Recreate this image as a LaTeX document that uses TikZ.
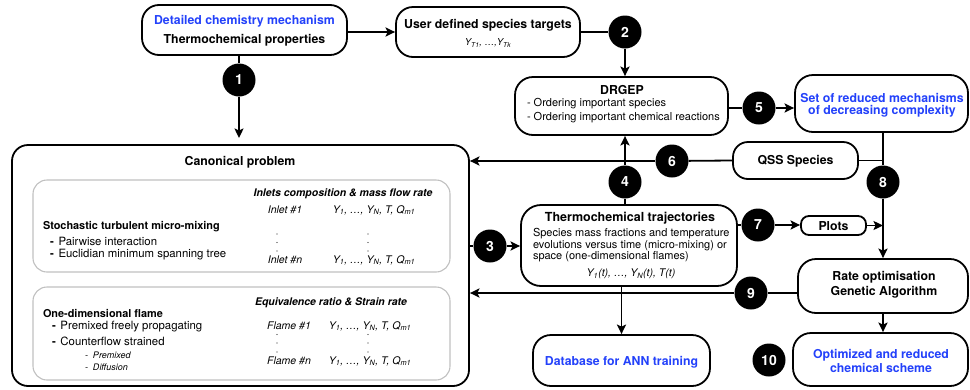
\documentclass[tikz,border=0pt]{standalone}
\usepackage{fontspec}
\setmainfont{TeX Gyre Heros}
\usetikzlibrary{arrows.meta}
\definecolor{myblue}{RGB}{35,65,250}
\definecolor{gline}{RGB}{192,192,192}
\newcommand\dashb{\makebox[8.5pt][l]{\bfseries -}}
\newcommand\Yform{Y\textsubscript{1}, …, Y\textsubscript{N}, T, Q\textsubscript{m1}}
\begin{document}
\begin{tikzpicture}[x=1pt,y=-1pt,
  box/.style={draw, line width=1.8pt, rounded corners=17pt, inner sep=0pt},
  gbox/.style={draw=gline, line width=1.1pt, rounded corners=14pt, inner sep=0pt},
  circ/.style={circle, fill=black, minimum size=33pt, inner sep=0pt, text=white, font=\fontsize{14}{14}\selectfont\bfseries},
  ln/.style={line width=1.8pt},
  arr/.style={line width=1.8pt, -{Stealth[length=9.5pt,width=9pt,inset=2pt]}},
  txt/.style={inner sep=0pt, outer sep=0pt},
  hb/.style={txt, font=\fontsize{12.3}{14}\selectfont\bfseries},
  hbb/.style={hb, text=myblue},
  hs/.style={txt, anchor=west, font=\fontsize{10.9}{12}\selectfont\bfseries},
  hbi/.style={txt, font=\fontsize{10.5}{12}\selectfont\bfseries\itshape},
  rg/.style={txt, anchor=west, font=\fontsize{11}{13}\selectfont},
  li/.style={txt, anchor=west, font=\fontsize{11.4}{13}\selectfont},
  it/.style={txt, font=\fontsize{10.5}{12}\selectfont\itshape},
  sm/.style={txt, anchor=west, font=\fontsize{9}{10}\selectfont\itshape},
  dotc/.style={circle, fill=black!85, inner sep=0pt, minimum size=1.3pt}
]
\useasboundingbox (0,0) rectangle (970,389);

% boxes
\node[box, minimum width=205pt, minimum height=50pt] (A) at (244.5,30) {};
\node[box, minimum width=184pt, minimum height=50pt] (B) at (488,32) {};
\node[box, minimum width=213pt, minimum height=58pt, rounded corners=18pt] (drgep) at (621.5,106) {};
\node[box, minimum width=173pt, minimum height=57pt, rounded corners=18pt] (set) at (881.5,103.5) {};
\node[box, minimum width=125pt, minimum height=37pt, rounded corners=15pt] (qss) at (795.5,160.5) {};
\node[box, minimum width=457pt, minimum height=241pt, rounded corners=16pt] (canon) at (240.5,265.5) {};
\node[gbox, minimum width=417pt, minimum height=92pt] (inner1) at (241.5,226) {};
\node[gbox, minimum width=417pt, minimum height=93pt] (inner2) at (241.5,333.5) {};
\node[box, minimum width=216pt, minimum height=81pt, rounded corners=20pt] (thermo) at (629,245.5) {};
\node[box, minimum width=65pt, minimum height=19pt, rounded corners=8pt] (plots) at (833.5,225.5) {};
\node[box, minimum width=170pt, minimum height=54pt, rounded corners=18pt] (rate) at (883,286) {};
\node[box, minimum width=175pt, minimum height=53pt, rounded corners=18pt] (opt) at (880.5,359.5) {};
\node[box, minimum width=177pt, minimum height=51pt, rounded corners=18pt] (db) at (621.5,360.5) {};

% box texts
\node[hbb] (tA1) at (244.5,21) {Detailed chemistry mechanism};
\node[hb] (tA2) at (244.5,40) {Thermochemical properties};
\node[hb] (tB1) at (488,25) {User defined species targets};
\node[txt, font=\fontsize{9.5}{10}\selectfont\itshape] (tB2) at (488,43) {Y\textsubscript{T1}, …,Y\textsubscript{Tk}};
\node[hb] (tD0) at (622,90) {DRGEP};
\node[rg] (tD1) at (527,104) {- Ordering important species};
\node[rg] (tD2) at (527,118) {- Ordering important chemical reactions};
\node[hbb] (tS1) at (882,98) {Set of reduced mechanisms};
\node[hbb] (tS2) at (882,111) {of decreasing complexity};
\node[hb] (tQ) at (795.5,161) {QSS Species};
\node[hb] (tC) at (240,162) {Canonical problem};
\node[txt, font=\fontsize{12.5}{14}\selectfont\bfseries] (th0) at (630,218) {Thermochemical trajectories};
\node[rg] (th1) at (533,234) {Species mass fractions and temperature};
\node[rg] (th2) at (533,246) {evolutions versus time (micro-mixing) or};
\node[rg] (th3) at (533,257) {space (one-dimensional flames)};
\node[it] (th4) at (631,274) {Y\textsubscript{1}(t), …, Y\textsubscript{N}(t), T(t)};
\node[hb] (tP) at (833.5,226) {Plots};
\node[hb] (tR1) at (884,277) {Rate optimisation};
\node[hb] (tR2) at (884,292) {Genetic Algorithm};
\node[hbb] (tO1) at (881,355) {Optimized and reduced};
\node[hbb] (tO2) at (881,368) {chemical scheme};
\node[hbb] (tDB) at (621.5,362) {Database for ANN training};

% inner box 1
\node[hbi] (h1) at (343,194) {Inlets composition \& mass flow rate};
\node[it] (i1a) at (285,210) {Inlet \#1};
\node[it] (i1b) at (374,210) {\Yform};
\node[it] (i1c) at (285,260) {Inlet \#n};
\node[it] (i1d) at (374,260) {\Yform};
\foreach \k/\yy in {a/234,b/242.5,c/251}{
  \node[dotc] (d1\k) at (277,\yy) {};
  \node[dotc] (e1\k) at (368,\yy) {};
}
\node[hs] (s1) at (43,227) {Stochastic turbulent micro-mixing};
\node[li] (s2) at (50,241) {\dashb Pairwise interaction};
\node[li] (s3) at (50,255) {\dashb Euclidian minimum spanning tree};

% inner box 2
\node[hbi] (h2) at (331,303) {Equivalence ratio \& Strain rate};
\node[hs] (o1) at (43,313) {One-dimensional flame};
\node[li] (o2) at (52,327) {\dashb Premixed freely propagating};
\node[li] (o3) at (52,341) {\dashb Counterflow strained};
\node[sm] (o4) at (85,355) {-\ \ Premixed};
\node[sm] (o5) at (85,367) {-\ \ Diffusion};
\node[it] (f1) at (289,326) {Flame \#1};
\node[it] (f2) at (370,326) {\Yform};
\node[it] (f3) at (289,361) {Flame \#n};
\node[it] (f4) at (370,361) {\Yform};
\foreach \k/\yy in {a/334.5,b/343,c/352}{
  \node[dotc] (d2\k) at (277,\yy) {};
  \node[dotc] (e2\k) at (368,\yy) {};
}

% numbered circles
\node[circ] (c1) at (239,80) {1};
\node[circ] (c2) at (625,32) {2};
\node[circ] (c3) at (490,246) {3};
\node[circ] (c4) at (625,182) {4};
\node[circ] (c5) at (759,108) {5};
\node[circ] (c6) at (672,161) {6};
\node[circ] (c7) at (758,225) {7};
\node[circ] (c8) at (883,182) {8};
\node[circ] (c9) at (751,293) {9};
\node[circ] (c10) at (769,360) {10};
\coordinate (k1) at (239,138);

% connectors
\draw[ln] (c1 |- A.south) -- (c1);
\draw[arr] (c1) -- (k1);
\draw[arr] (A.east |- B.west) -- (B.west);
\draw[ln] (B.east) -- (c2);
\draw[arr] (c2) -- (c2 |- drgep.north);
\draw[ln] (drgep.east |- c5) -- (c5);
\draw[arr] (c5) -- (c5 -| set.west);
\draw[ln] (c8 |- set.south) -- (c8);
\draw[arr] (c8) -- (c8 |- rate.north);
\draw[ln] (qss.east) -- (qss.east -| c8);
\draw[ln] (qss.west) -- (c6);
\draw[arr] (c6) -- (c6 -| canon.east);
\draw[ln] (c4 |- thermo.north) -- (c4);
\draw[arr] (c4) -- (c4 |- drgep.south);
\draw[ln] (c3 -| canon.east) -- (c3);
\draw[arr] (c3) -- (c3 -| thermo.west);
\draw[ln] (c7 -| thermo.east) -- (c7);
\draw[arr] (c7) -- (c7 -| plots.west);
\draw[arr] (plots.east) -- (plots.east -| c8);
\draw[ln] (c9 -| rate.west) -- (c9);
\draw[arr] (c9) -- (c9 -| canon.east);
\draw[arr] (rate.south -| c8) -- (opt.north -| c8);
\draw[arr] (thermo.south -| db.north) -- (db.north);
\end{tikzpicture}
\end{document}
